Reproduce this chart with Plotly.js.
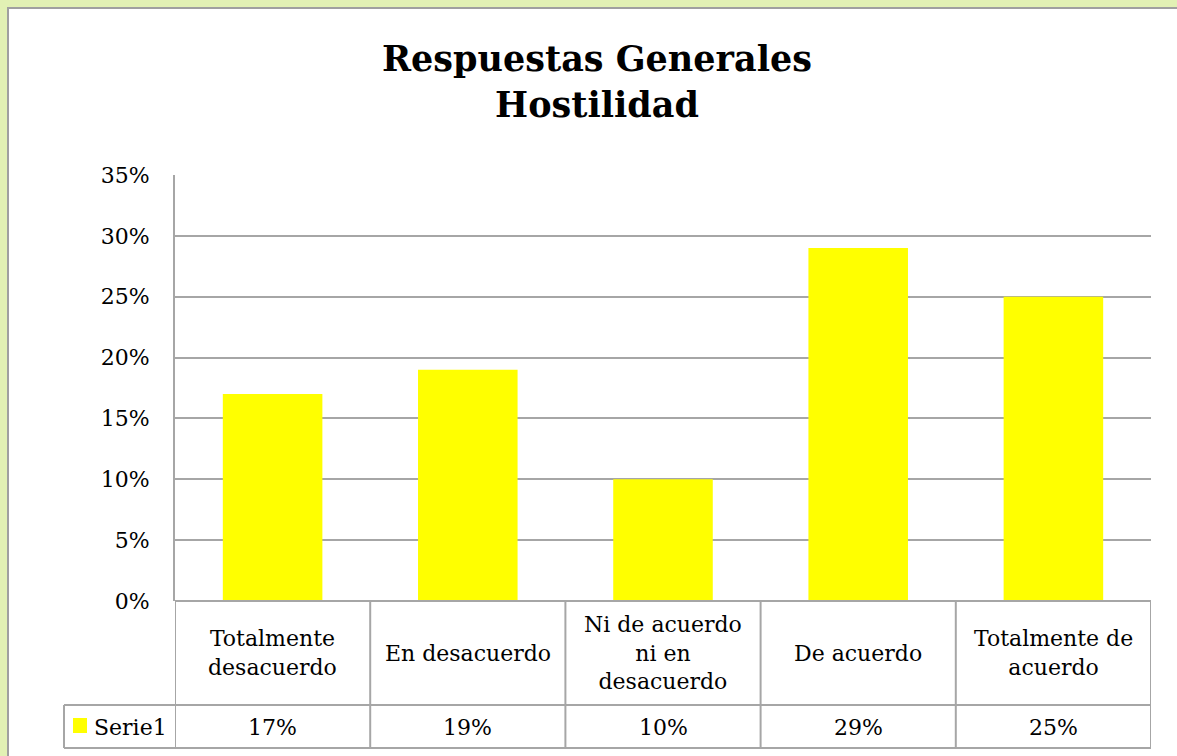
<!DOCTYPE html>
<html>
<head>
<meta charset="utf-8">
<script src="https://cdn.plot.ly/plotly-3.0.1.min.js"></script>
<style>html,body{margin:0;padding:0;background:#e2f1b4;}#chart{width:1177px;height:756px;}</style>
</head>
<body>
<div id="chart"></div>
<script>
// ---- data ----
const categories = ["Totalmente desacuerdo", "En desacuerdo", "Ni de acuerdo ni en desacuerdo", "De acuerdo", "Totalmente de acuerdo"];
const categoryLabels = ["Totalmente<br>desacuerdo", "En desacuerdo", "Ni de acuerdo<br>ni en<br>desacuerdo", "De acuerdo", "Totalmente de<br>acuerdo"];
const seriesName = "Serie1";
const values = [0.17, 0.19, 0.10, 0.29, 0.25];
const yTickValues = [0, 0.05, 0.10, 0.15, 0.20, 0.25, 0.30, 0.35];

// ---- layout helpers (pixel -> paper) ----
const W = 1177, H = 756;
const PL = 175, PR = 1151, PT = 175, PB = 601;
const px = X => (X - PL) / (PR - PL);
const py = Y => (PB - Y) / (PB - PT);
const FONT = "DejaVu Serif, Liberation Serif, serif";
const GRID = "#a6a6a6";
const YELLOW = "#ffff00";

const shapes = [];
// white chart area with grey frame on green background
shapes.push({type: "rect", xref: "paper", yref: "paper", x0: px(8), x1: px(1185), y0: py(8), y1: py(765),
  fillcolor: "#ffffff", line: {color: "#a0a0a0", width: 2}, layer: "below"});
// data table lines
const idx = categories.map((c, i) => i);
shapes.push({type: "line", xref: "paper", yref: "paper", x0: px(64), x1: 1, y0: py(705), y1: py(705), line: {color: GRID, width: 2}});
shapes.push({type: "line", xref: "paper", yref: "paper", x0: px(64), x1: 1, y0: py(748), y1: py(748), line: {color: GRID, width: 2}});
shapes.push({type: "line", xref: "paper", yref: "paper", x0: px(64), x1: px(64), y0: py(705), y1: py(748), line: {color: GRID, width: 2}});
shapes.push({type: "line", xref: "paper", yref: "paper", x0: 0, x1: 1, y0: 0, y1: 0, line: {color: GRID, width: 2}});
for (let i = 0; i <= categories.length; i++) {
  shapes.push({type: "line", xref: "x", yref: "paper", x0: i - 0.5, x1: i - 0.5, y0: 0, y1: py(748), line: {color: GRID, width: 2}});
}
// legend key swatch
shapes.push({type: "rect", xref: "paper", yref: "paper", x0: px(73), x1: px(87), y0: py(718), y1: py(733), fillcolor: YELLOW, line: {width: 0}});

const annotations = [];
categories.forEach((c, i) => {
  annotations.push({xref: "x", yref: "paper", x: i, y: py(653), text: categoryLabels[i], showarrow: false,
    xanchor: "center", yanchor: "middle", font: {family: FONT, size: 22, color: "#000"}});
  annotations.push({xref: "x", yref: "paper", x: i, y: py(727), text: Math.round(values[i] * 100) + "%", showarrow: false,
    xanchor: "center", yanchor: "middle", font: {family: FONT, size: 22, color: "#000"}});
});
annotations.push({xref: "paper", yref: "paper", x: px(92), y: py(727), text: seriesName, showarrow: false,
  xanchor: "left", yanchor: "middle", font: {family: FONT, size: 22, color: "#000"}});

const trace = {
  type: "bar", x: idx, y: values, name: seriesName,
  marker: {color: YELLOW, line: {width: 0}}, hoverinfo: "none"
};

const layout = {
  width: W, height: H,
  paper_bgcolor: "#e2f1b4", plot_bgcolor: "#ffffff",
  margin: {l: PL, r: W - PR, t: PT, b: H - PB, pad: 0},
  showlegend: false,
  bargap: 0.49,
  title: {text: "<b>Respuestas Generales<br>Hostilidad</b>", font: {family: FONT, size: 35, color: "#000"},
    xref: "container", x: 597 / W, xanchor: "center", yref: "container", y: 1 - 71 / H, yanchor: "middle"},
  xaxis: {type: "linear", range: [-0.5, categories.length - 0.5], showticklabels: false, showgrid: false,
    zeroline: false, showline: false, ticks: "", fixedrange: true},
  yaxis: {range: [0, 0.35], tickvals: yTickValues, tickformat: ".0%", showgrid: true, gridcolor: GRID, gridwidth: 2,
    zeroline: false, showline: true, linecolor: GRID, linewidth: 2, ticks: "", ticklabelstandoff: 19,
    tickfont: {family: FONT, size: 22, color: "#000"}, fixedrange: true},
  shapes: shapes,
  annotations: annotations
};

Plotly.newPlot("chart", [trace], layout, {displayModeBar: false, staticPlot: true});
</script>
</body>
</html>
